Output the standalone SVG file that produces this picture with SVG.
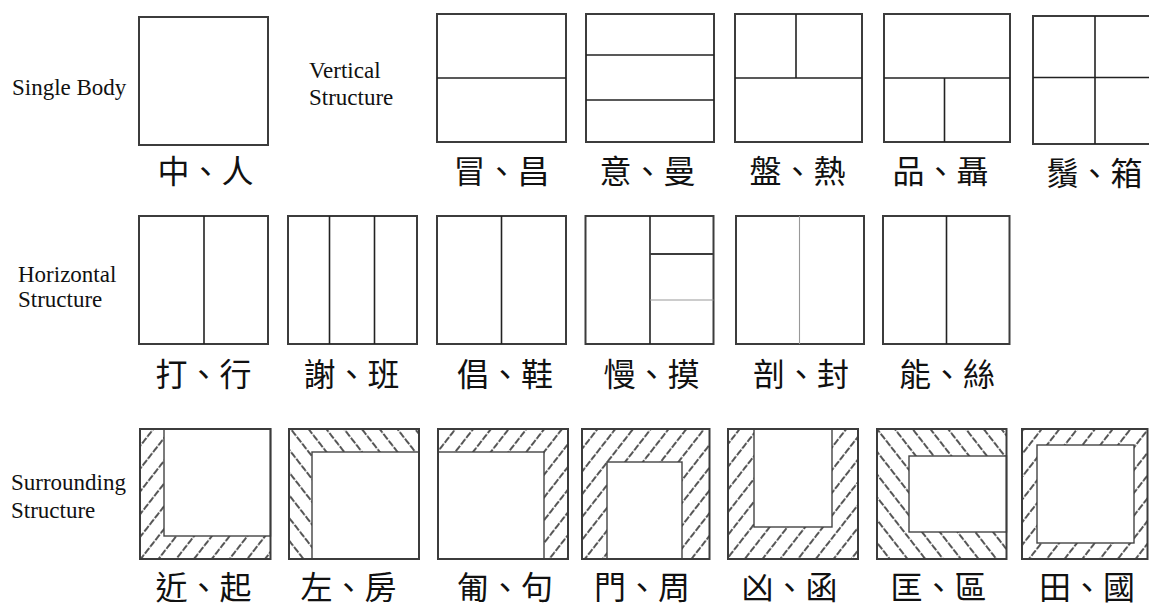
<svg xmlns="http://www.w3.org/2000/svg" width="1149" height="608" viewBox="0 0 1149 608">
<style>
.bx{fill:#fff;stroke:#3c3c3c;stroke-width:2}
.ol{fill:none;stroke:#3c3c3c;stroke-width:2}
.hx{stroke:#3c3c3c;stroke-width:2}
.dv{stroke:#222;stroke-width:1.6;fill:none}
.lt{stroke:#999;stroke-width:1.1;fill:none}
.in{fill:#fff;stroke:#444;stroke-width:1.4}
.ht{stroke:#1e1e1e;stroke-width:1.5;fill:none;stroke-dasharray:7 1.5}
.en{font-family:"Liberation Serif",serif;font-size:23px;fill:#111}
.zh{font-family:"Noto Sans CJK TC","Noto Sans CJK SC",sans-serif;font-size:32px;fill:#111}
</style>
<defs>
<pattern id="hf" width="14" height="17" patternUnits="userSpaceOnUse" patternTransform="rotate(38)">
<path class="ht" d="M7,0 V17"/>
</pattern>
<pattern id="hb" width="14" height="17" patternUnits="userSpaceOnUse" patternTransform="rotate(-38)">
<path class="ht" d="M7,0 V17"/>
</pattern>
</defs>
<rect width="1149" height="608" fill="#fff"/>

<g id="row-titles">
<text class="en" x="12" y="95">Single Body</text>
<text class="en" x="309" y="78">Vertical</text>
<text class="en" x="309" y="105">Structure</text>
<text class="en" x="18" y="282">Horizontal</text>
<text class="en" x="18" y="307">Structure</text>
<text class="en" x="11" y="490">Surrounding</text>
<text class="en" x="11" y="518">Structure</text>
</g>

<g id="single">
<rect class="bx" x="139" y="17" width="129" height="128"/>
<text class="zh" x="157.5" y="183">中、人</text>
</g>

<g id="v1">
<rect class="bx" x="437" y="14" width="129" height="128"/>
<line class="dv" x1="437" y1="78" x2="566" y2="78"/>
<text class="zh" x="453.5" y="183">冒、昌</text>
</g>
<g id="v2">
<rect class="bx" x="586" y="14" width="128" height="128"/>
<line class="dv" x1="586" y1="55" x2="714" y2="55"/>
<line class="dv" x1="586" y1="100" x2="714" y2="100"/>
<text class="zh" x="599.5" y="183">意、曼</text>
</g>
<g id="v3">
<rect class="bx" x="735" y="14" width="127" height="128"/>
<line class="dv" x1="735" y1="78" x2="862" y2="78"/>
<line class="dv" x1="796" y1="14" x2="796" y2="78"/>
<text class="zh" x="749.5" y="183">盤、熱</text>
</g>
<g id="v4">
<rect class="bx" x="884" y="14" width="126" height="128"/>
<line class="dv" x1="884" y1="78" x2="1010" y2="78"/>
<line class="dv" x1="944.5" y1="78" x2="944.5" y2="142"/>
<text class="zh" x="892.5" y="183">品、聶</text>
</g>
<g id="v5">
<rect class="bx" x="1033" y="16" width="130" height="128"/>
<line class="dv" x1="1033" y1="77.5" x2="1149" y2="77.5"/>
<line class="dv" x1="1095" y1="16" x2="1095" y2="144"/>
<text class="zh" x="1046.5" y="185">鬚、箱</text>
</g>

<g id="h1">
<rect class="bx" x="139" y="216" width="129" height="128"/>
<line class="dv" x1="204" y1="216" x2="204" y2="344"/>
<text class="zh" x="155.5" y="386">打、行</text>
</g>
<g id="h2">
<rect class="bx" x="288" y="216" width="129" height="128"/>
<line class="dv" x1="329.5" y1="216" x2="329.5" y2="344"/>
<line class="dv" x1="374.5" y1="216" x2="374.5" y2="344"/>
<text class="zh" x="303.5" y="386">謝、班</text>
</g>
<g id="h3">
<rect class="bx" x="437" y="216" width="129" height="128"/>
<line class="dv" x1="501.5" y1="216" x2="501.5" y2="344"/>
<text class="zh" x="457" y="386">倡、鞋</text>
</g>
<g id="h4">
<rect class="bx" x="585.5" y="216" width="128" height="128"/>
<line class="dv" x1="650" y1="216" x2="650" y2="344"/>
<line class="hx" x1="650" y1="254" x2="713.5" y2="254"/>
<line class="lt" x1="650" y1="300" x2="713.5" y2="300"/>
<text class="zh" x="603.5" y="386">慢、摸</text>
</g>
<g id="h5">
<rect class="bx" x="736" y="216" width="128" height="128"/>
<line class="lt" x1="799.5" y1="216" x2="799.5" y2="344"/>
<text class="zh" x="753" y="386">剖、封</text>
</g>
<g id="h6">
<rect class="bx" x="883" y="216" width="126.5" height="128"/>
<line class="dv" x1="946.5" y1="216" x2="946.5" y2="344"/>
<text class="zh" x="899" y="386">能、絲</text>
</g>

<g id="s1">
<rect x="140" y="429" width="130.5" height="130" fill="url(#hf)"/>
<rect class="in" x="164" y="429" width="106.5" height="107"/>
<rect class="ol" x="140" y="429" width="130.5" height="130"/>
<text class="zh" x="155.5" y="598.5">近、起</text>
</g>
<g id="s2">
<rect x="289" y="429" width="130" height="130" fill="url(#hb)"/>
<rect class="in" x="312" y="452" width="107" height="107"/>
<rect class="ol" x="289" y="429" width="130" height="130"/>
<text class="zh" x="300.5" y="598.5">左、房</text>
</g>
<g id="s3">
<rect x="438" y="429" width="130" height="130" fill="url(#hf)"/>
<rect class="in" x="438" y="452" width="106" height="107"/>
<rect class="ol" x="438" y="429" width="130" height="130"/>
<text class="zh" x="457" y="598.5">匍、句</text>
</g>
<g id="s4">
<rect x="582" y="429" width="127.5" height="130" fill="url(#hf)"/>
<rect class="in" x="607" y="462" width="75" height="97"/>
<rect class="ol" x="582" y="429" width="127.5" height="130"/>
<text class="zh" x="594" y="598.5">門、周</text>
</g>
<g id="s5">
<rect x="728" y="429" width="130" height="130" fill="url(#hf)"/>
<rect class="in" x="754" y="429" width="78" height="98"/>
<rect class="ol" x="728" y="429" width="130" height="130"/>
<text class="zh" x="741.5" y="598.5">凶、函</text>
</g>
<g id="s6">
<rect x="877" y="429" width="129.5" height="130" fill="url(#hb)"/>
<rect class="in" x="909" y="456" width="97.5" height="76"/>
<rect class="ol" x="877" y="429" width="129.5" height="130"/>
<text class="zh" x="890.5" y="598.5">匡、區</text>
</g>
<g id="s7">
<rect x="1022" y="429" width="125.5" height="130" fill="url(#hf)"/>
<rect class="in" x="1037" y="445" width="97" height="98"/>
<rect class="ol" x="1022" y="429" width="125.5" height="130"/>
<text class="zh" x="1039" y="598.5">田、國</text>
</g>
</svg>
